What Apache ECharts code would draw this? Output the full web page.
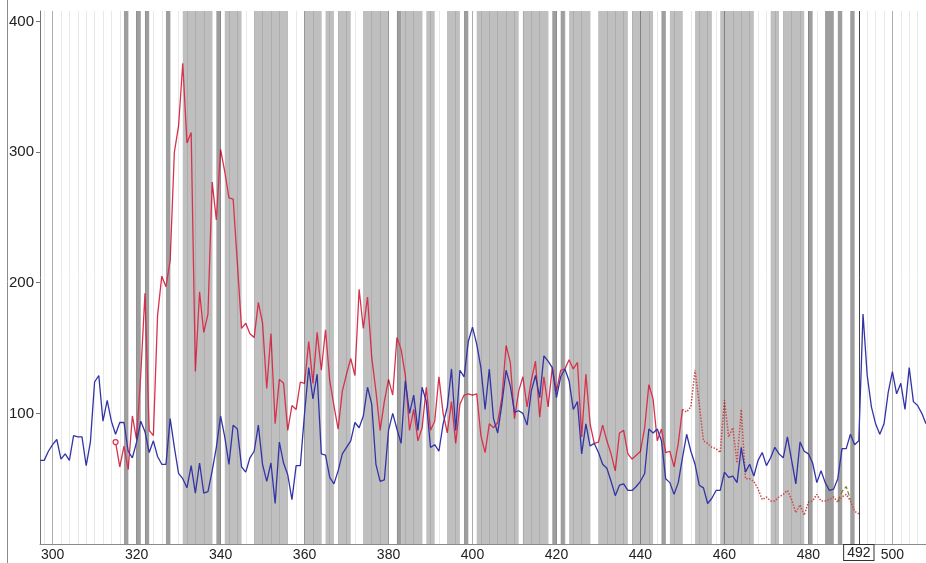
<!DOCTYPE html>
<html>
<head>
<meta charset="utf-8">
<script src="https://cdn.jsdelivr.net/npm/echarts@6/dist/echarts.min.js"></script>
<style>
  html, body { margin: 0; padding: 0; background: #fff; }
  #main { width: 926px; height: 563px; }
</style>
</head>
<body>
<div id="main"></div>
<script>
// x positions 297..508, one value each
var xStart = 297;
var blueValues = [
  64, 64, 71, 76, 80, 65, 69, 64, 83, 82, 82, 60, 78, 124, 129, 94, 110, 94, 84, 93,
  93, 71, 66, 78, 94, 86, 70, 79, 67, 61, 61, 96, 74, 54, 50, 43, 60, 39, 62, 39,
  40, 56, 74, 98, 82, 61, 91, 88, 59, 55, 66, 71, 91, 61, 48, 62, 31, 78, 62, 53,
  34, 60, 60, 100, 135, 111, 130, 69, 68, 51, 46, 56, 69, 74, 79, 93, 89, 98, 120, 107,
  61, 48, 49, 87, 100, 88, 77, 125, 100, 114, 87, 120, 109, 74, 76, 71, 92, 105, 134, 87,
  133, 128, 155, 166, 153, 135, 103, 134, 96, 85, 107, 133, 121, 101, 102, 100, 91, 117, 129, 112,
  144, 140, 135, 112, 128, 134, 125, 103, 109, 69, 92, 75, 77, 70, 61, 58, 48, 37, 45, 46,
  41, 41, 44, 48, 54, 88, 85, 88, 79, 50, 47, 38, 47, 66, 84, 71, 61, 45, 43, 31,
  35, 41, 41, 55, 51, 52, 47, 74, 55, 61, 52, 64, 70, 60, 66, 74, 69, 66, 82, 64,
  46, 78, 71, 69, 62, 47, 56, 47, 41, 42, 50, 73, 73, 84, 76, 79, 176, 129, 105, 92,
  84, 92, 116, 132, 115, 123, 103, 135, 109, 106, 100, 92
];

// red solid line, x 315..450
var redStart = 315;
var redValues = [
  78, 59, 75, 57, 98, 80, 130, 192, 87, 83, 175, 205, 197, 217, 300, 320, 368, 307, 315, 132,
  193, 162, 176, 277, 248, 302, 285, 265, 264, 215, 165, 169, 161, 158, 185, 169, 119, 161, 92, 126,
  123, 87, 106, 103, 124, 123, 155, 123, 162, 133, 164, 125, 106, 88, 117, 130, 142, 129, 195, 165,
  189, 143, 117, 87, 109, 126, 114, 158, 149, 129, 87, 103, 79, 89, 120, 87, 94, 128, 100, 85,
  109, 77, 107, 114, 115, 114, 115, 83, 70, 92, 89, 93, 112, 152, 139, 96, 117, 128, 105, 125,
  140, 97, 128, 105, 135, 117, 133, 134, 141, 134, 139, 82, 130, 92, 77, 78, 91, 79, 69, 56,
  85, 87, 69, 65, 68, 71, 89, 122, 111, 79, 88, 70, 71, 59, 77, 103
];

// red dotted continuation, x 450..492
var dotStart = 450;
var dotValues = [
  103, 101, 105, 133, 107, 79, 77, 74, 73, 70, 110, 82, 89, 62, 103, 50, 50, 48, 42, 34,
  36, 33, 33, 36, 38, 41, 34, 24, 30, 22, 32, 33, 38, 33, 33, 34, 36, 32, 36, 38,
  33, 25, 23
];

// short olive dashed piece, x 487..490
var oliveStart = 487;
var oliveValues = [33, 40, 44, 34];

// shaded intervals [from, to, tone]
var bands = [
  [317, 318, 'd'], [320, 321, 'd'], [322, 323, 'd'], [327, 328, 'd'], [331, 338, 'l'],
  [339, 340, 'd'], [341, 345, 'l'], [348, 356, 'l'], [360, 364, 'l'], [365, 367, 'l'],
  [368, 371, 'l'], [374, 380, 'l'], [382, 383, 'd'], [383, 388, 'l'], [389, 391, 'l'],
  [394, 397, 'l'], [398, 399, 'd'], [401, 411, 'l'], [412, 418, 'l'], [419, 420, 'd'],
  [421, 422, 'd'], [423, 428, 'l'], [430, 437, 'l'], [438, 443, 'l'], [445, 446, 'd'],
  [447, 450, 'l'], [453, 457, 'l'], [459, 467, 'l'], [471, 473, 'l'], [474, 479, 'l'],
  [480, 481, 'd'], [484, 486, 'd'], [487, 488, 'd'], [490, 491, 'd']
];

var xTicks = [300, 320, 340, 360, 380, 400, 420, 440, 460, 480, 500];
var markX = 492;

function toPairs(start, vals) {
  var out = [];
  for (var i = 0; i < vals.length; i++) out.push([start + i, vals[i]]);
  return out;
}

var bandAreas = bands.map(function (b) {
  return [{ xAxis: b[0], itemStyle: { color: b[2] == 'd' ? '#9e9e9e' : '#bfbfbf' } }, { xAxis: b[1] }];
});

// thin vertical grid every 2, darker every 20
var gridLines = [];
for (var g = 298; g <= 508; g += 2) {
  var major = (g % 20 == 0);
  gridLines.push({ xAxis: g, lineStyle: { color: major ? 'rgba(0,0,0,0.32)' : 'rgba(0,0,0,0.09)', width: 1, type: 'solid' } });
}

var myChart = echarts.init(document.getElementById('main'));
var option = {
  animation: false,
  grid: { left: 40, right: 0, top: 11, bottom: 19 },
  graphic: [{
    type: 'line', shape: { x1: 7.5, y1: 0, x2: 7.5, y2: 563 },
    style: { stroke: '#8a8a8a', lineWidth: 1 }, silent: true
  }],
  xAxis: {
    type: 'value', min: 297, max: 508,
    axisLine: { show: true, lineStyle: { color: '#8a8a8a' } },
    axisTick: { show: false, customValues: xTicks },
    axisLabel: { customValues: xTicks, color: '#222', fontSize: 14, margin: 4, fontFamily: 'Liberation Sans' },
    splitLine: { show: false }
  },
  yAxis: {
    type: 'value', min: 0, max: 408, interval: 100,
    axisLine: { show: true, lineStyle: { color: '#777' } },
    axisTick: { show: true, length: 4, lineStyle: { color: '#777' } },
    axisLabel: { showMinLabel: false, color: '#222', fontSize: 15, margin: 6, fontFamily: 'Liberation Sans' },
    splitLine: { show: false }
  },
  series: [
    {
      name: 'bands', type: 'line', data: [], silent: true, z: 1,
      markArea: { silent: true, data: bandAreas }
    },
    {
      name: 'grid', type: 'line', data: [], silent: true, z: 2,
      markLine: { silent: true, symbol: 'none', label: { show: false }, data: gridLines }
    },
    {
      name: 'red', type: 'line', data: toPairs(redStart, redValues), z: 4,
      symbol: 'none', lineStyle: { color: '#d8324e', width: 1.3 },
      markPoint: {
        symbol: 'circle', symbolSize: 5, label: { show: false },
        itemStyle: { color: '#fff', borderColor: '#d8324e', borderWidth: 1.2 },
        data: [{ coord: [redStart, redValues[0]] }]
      }
    },
    {
      name: 'redDotted', type: 'line', data: toPairs(dotStart, dotValues), z: 4,
      symbol: 'none', lineStyle: { color: '#d04a4a', width: 1.5, type: 'dotted' }
    },
    {
      name: 'olive', type: 'line', data: toPairs(oliveStart, oliveValues), z: 4,
      symbol: 'none', lineStyle: { color: '#7a7a2a', width: 1.2, type: 'dashed' }
    },
    {
      name: 'blue', type: 'line', data: toPairs(xStart, blueValues), z: 5,
      symbol: 'none', lineStyle: { color: '#3333a8', width: 1.3 },
      markLine: {
        silent: true, symbol: 'none',
        lineStyle: { color: '#444', width: 1, type: 'solid' },
        label: {
          show: true, position: 'start', distance: 1, formatter: String(markX),
          color: '#222', fontSize: 14, fontFamily: 'Liberation Sans',
          borderColor: '#333', borderWidth: 1, padding: [1, 3, 0, 3], backgroundColor: '#fff'
        },
        data: [{ xAxis: markX }]
      }
    }
  ]
};
myChart.setOption(option);
</script>
</body>
</html>
